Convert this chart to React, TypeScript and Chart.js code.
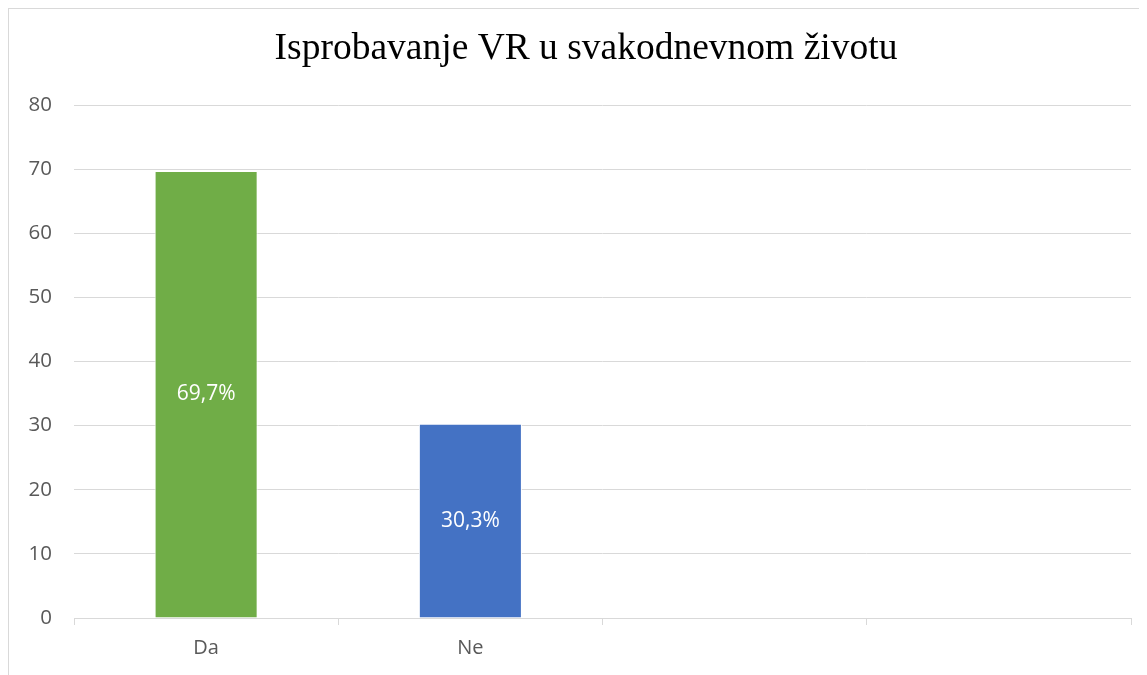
import React, { useEffect, useRef } from "react";
import { Chart, registerables } from "chart.js";

Chart.register(...registerables);

const TITLE = "Isprobavanje VR u svakodnevnom životu";
const categories = ["Da", "Ne", "", ""];
const values = [69.7, 30.3, null, null];
const valueLabels = ["69,7%", "30,3%", "", ""];
const barColors = ["#70AD47", "#4472C4", "#A5A5A5", "#FFC000"];
const yMin = 0;
const yMax = 80;
const yStep = 10;

const FONT = "'Open Sans', 'Noto Sans', sans-serif";

const labelPlugin = {
  id: "centerLabels",
  afterDatasetsDraw(chart: any) {
    const ctx = chart.ctx;
    const meta = chart.getDatasetMeta(0);
    ctx.save();
    ctx.fillStyle = "#FFFFFF";
    ctx.font = `21px ${FONT}`;
    ctx.textAlign = "center";
    ctx.textBaseline = "middle";
    meta.data.forEach((bar: any, i: number) => {
      const txt = valueLabels[i];
      if (!txt || values[i] == null) return;
      const { x, y, base } = bar.getProps(["x", "y", "base"], true);
      ctx.fillText(txt, x, (y + base) / 2);
    });
    ctx.restore();
  },
};

const titlePlugin = {
  id: "offsetTitle",
  afterDraw(chart: any) {
    const ctx = chart.ctx;
    ctx.save();
    ctx.fillStyle = "#000000";
    ctx.font = `37.5px 'Liberation Serif', 'Times New Roman', serif`;
    ctx.textAlign = "center";
    ctx.textBaseline = "middle";
    ctx.fillText(TITLE, 577, 40);
    ctx.restore();
  },
};

export default function App() {
  const ref = useRef<HTMLCanvasElement | null>(null);
  useEffect(() => {
    if (!ref.current) return;
    const chart = new Chart(ref.current, {
      type: "bar",
      data: {
        labels: categories,
        datasets: [
          {
            data: values as any,
            backgroundColor: barColors,
            borderColor: "#FFFFFF",
            borderWidth: 1,
            categoryPercentage: 1,
            barPercentage: 0.39,
          },
        ],
      },
      options: {
        animation: false,
        responsive: false,
        maintainAspectRatio: false,
        layout: { padding: { top: 96, right: 16, left: 0, bottom: 0 } },
        plugins: {
          legend: { display: false },
          tooltip: { enabled: false },
          title: { display: false },
        },
        scales: {
          x: {
            offset: true,
            grid: {
              offset: true,
              drawOnChartArea: false,
              drawTicks: true,
              tickLength: 7,
              color: "#D9D9D9",
              lineWidth: 1,
            },
            border: { display: true, color: "#D9D9D9", width: 1 },
            ticks: { color: "#595959", font: { family: FONT, size: 20 }, padding: 11 },
            afterFit(scale: any) {
              scale.height = 57;
            },
          },
          y: {
            min: yMin,
            max: yMax,
            grid: { color: "#D9D9D9", drawTicks: false, lineWidth: 1 },
            border: { display: false },
            ticks: {
              stepSize: yStep,
              color: "#595959",
              font: { family: FONT, size: 20.5 },
              padding: 22,
            },
            afterFit(scale: any) {
              scale.width = 65;
            },
          },
        },
      },
      plugins: [labelPlugin, titlePlugin],
    });
    return () => chart.destroy();
  }, []);
  return (
    <div
      style={{
        width: 1139,
        height: 667,
        borderTop: "1px solid #D9D9D9",
        borderLeft: "1px solid #D9D9D9",
        boxSizing: "border-box",
        background: "#FFFFFF",
        overflow: "hidden",
      }}
    >
      <canvas ref={ref} width={1138} height={666} style={{ display: "block" }} />
    </div>
  );
}
